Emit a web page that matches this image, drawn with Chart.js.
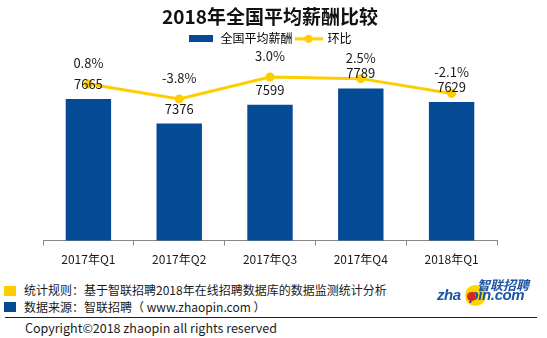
<!DOCTYPE html>
<html>
<head>
<meta charset="utf-8">
<script src="https://cdn.jsdelivr.net/npm/chart.js@4.4.1/dist/chart.umd.min.js"></script>
<style>
  html, body { margin: 0; padding: 0; background: #fff; }
  body { width: 547px; height: 338px; position: relative; overflow: hidden;
         font-family: "Noto Sans CJK SC", "Noto Sans", sans-serif; color: #1a1a1a; }
  #wrap { position: absolute; left: 0; top: 0; width: 547px; height: 274px; }
  .note { position: absolute; left: 24px; font-size: 12px; line-height: 16px; white-space: nowrap; }
  .sq { position: absolute; left: 4px; width: 12px; height: 10px; }
  #rule { position: absolute; left: 5px; top: 317px; width: 532px; height: 1px; background: #222; }
  #copy { position: absolute; left: 25px; top: 320px; font-size: 12.5px; line-height: 16px; white-space: nowrap; }
  #logo { position: absolute; left: 430px; top: 272px; width: 110px; height: 40px; }
  #logo .dot { position: absolute; left: 35px; top: 13px; width: 21px; height: 21px; border-radius: 50%; background: #ffd400; }
  #logo .cn { position: absolute; left: 47px; top: 6px; font-size: 13px; line-height: 13px; font-weight: bold; font-style: italic; color: #1d55a8; white-space: nowrap; }
  #logo .en { position: absolute; left: 7px; top: 15px; font-family: "Liberation Sans", Arial, sans-serif; font-size: 15px; line-height: 15px; font-weight: bold; font-style: italic; color: #1d55a8; letter-spacing: -0.4px; white-space: nowrap; }
  #logo .ball { position: absolute; left: 37px; top: 20px; width: 9px; height: 9px; border-radius: 50%; background: #d7261e; }
</style>
</head>
<body>
<div id="wrap"><canvas id="salaryChart"></canvas></div>

<div class="sq" style="top:286px;background:#ffcc00"></div>
<div class="note" style="top:282px">统计规则：基于智联招聘2018年在线招聘数据库的数据监测统计分析</div>
<div class="sq" style="top:302px;background:#054a94"></div>
<div class="note" style="top:299px">数据来源：智联招聘（ www.zhaopin.com ）</div>
<div id="rule"></div>
<div id="copy">Copyright©2018 zhaopin all rights reserved</div>
<div id="logo">
  <div class="dot"></div>
  <div class="cn">智联招聘</div>
  <div class="en">zha<span style="color:transparent">o</span>pin.com</div>
  <div class="ball"></div>
</div>

<script>
// --- 数据 ---
const quarters = ['2017年Q1', '2017年Q2', '2017年Q3', '2017年Q4', '2018年Q1'];
const avgSalary = [7665, 7376, 7599, 7789, 7629];
const qoqChange = [0.8, -3.8, 3.0, 2.5, -2.1];

const BLUE = '#054a94';
const YELLOW = '#ffcc00';

// 图例图标
function legendIcon(kind) {
    const c = document.createElement('canvas');
    const g = c.getContext('2d');
    if (kind === 'bar') {
        c.width = 24; c.height = 7;
        g.fillStyle = BLUE;
        g.fillRect(0, 0, 24, 7);
    } else {
        c.width = 28; c.height = 10;
        g.strokeStyle = YELLOW;
        g.lineWidth = 3;
        g.beginPath(); g.moveTo(0, 5); g.lineTo(28, 5); g.stroke();
        g.fillStyle = YELLOW;
        g.beginPath(); g.arc(14, 5, 4, 0, Math.PI * 2); g.fill();
    }
    return c;
}

// 数据标签
const valueLabels = {
    id: 'valueLabels',
    afterDatasetsDraw(chart) {
        const g = chart.ctx;
        g.save();
        g.fillStyle = '#1a1a1a';
        g.font = '13px "Noto Sans CJK SC", sans-serif';
        g.textAlign = 'center';
        g.textBaseline = 'middle';
        chart.getDatasetMeta(0).data.forEach((bar, i) => {
            g.fillText(String(avgSalary[i]), bar.x, bar.y - 15);
        });
        chart.getDatasetMeta(1).data.forEach((pt, i) => {
            g.fillText(qoqChange[i].toFixed(1) + '%', pt.x, pt.y - 21);
        });
        g.restore();
    }
};

const ctx = document.getElementById('salaryChart').getContext('2d');
const salaryChart = new Chart(ctx, {
    type: 'bar',
    data: {
        labels: quarters,
        datasets: [{
            label: '全国平均薪酬',
            data: avgSalary,
            backgroundColor: BLUE,
            categoryPercentage: 1,
            barPercentage: 0.5,
            yAxisID: 'y',
            order: 2
        }, {
            type: 'line',
            label: '环比',
            data: qoqChange,
            borderColor: YELLOW,
            backgroundColor: YELLOW,
            borderWidth: 3,
            pointRadius: 4.5,
            pointBorderWidth: 0,
            yAxisID: 'y2',
            order: 1
        }]
    },
    options: {
        responsive: true,
        maintainAspectRatio: false,
        animation: false,
        layout: { padding: { left: 43, right: 50, top: 0, bottom: 0 } },
        plugins: {
            title: {
                display: true,
                text: '2018年全国平均薪酬比较',
                color: '#111',
                font: { size: 19, weight: 'bold', family: '"Noto Sans CJK SC", sans-serif' },
                padding: { top: 5, bottom: 2 }
            },
            legend: {
                position: 'top',
                labels: {
                    usePointStyle: true,
                    pointStyleWidth: 26,
                    padding: 3,
                    color: '#1a1a1a',
                    font: { size: 12, family: '"Noto Sans CJK SC", sans-serif' },
                    generateLabels(chart) {
                        return chart.data.datasets.map((ds, i) => ({
                            text: ds.label,
                            pointStyle: legendIcon(i === 0 ? 'bar' : 'line'),
                            fillStyle: ds.backgroundColor,
                            strokeStyle: ds.backgroundColor,
                            lineWidth: 0,
                            hidden: false,
                            datasetIndex: i
                        }));
                    }
                }
            },
            tooltip: { enabled: false }
        },
        scales: {
            x: {
                grid: { drawOnChartArea: false, drawTicks: true, tickLength: 5, color: '#888' },
                border: { color: '#888', width: 1 },
                ticks: {
                    color: '#1a1a1a',
                    padding: 7,
                    font: { size: 12, family: '"Noto Sans CJK SC", sans-serif' }
                }
            },
            y: { display: false, min: 6000, max: 8185 },
            y2: { display: false, min: -47.8, max: 9.9 }
        }
    },
    plugins: [valueLabels]
});
</script>
</body>
</html>
